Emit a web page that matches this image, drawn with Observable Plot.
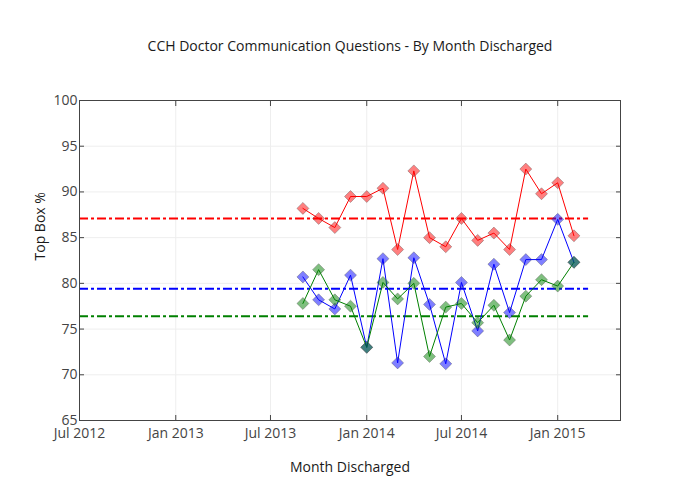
<!DOCTYPE html>
<html>
<head>
<meta charset="utf-8">
<script src="https://cdn.jsdelivr.net/npm/d3@7"></script>
<script src="https://cdn.jsdelivr.net/npm/@observablehq/plot@0.6"></script>
<style>
  html, body { margin: 0; padding: 0; background: #fff; }
  #chart { width: 700px; height: 500px; }
</style>
</head>
<body>
<div id="chart"></div>
<script>
// ---- data ----
const months = ["2013-09-01","2013-10-01","2013-11-01","2013-12-01","2014-01-01","2014-02-01",
                "2014-03-01","2014-04-01","2014-05-01","2014-06-01","2014-07-01","2014-08-01",
                "2014-09-01","2014-10-01","2014-11-01","2014-12-01","2015-01-01","2015-02-01"];
const redValues   = [88.2, 87.1, 86.1, 89.5, 89.5, 90.4, 83.7, 92.3, 85.0, 84.0, 87.1, 84.7, 85.5, 83.7, 92.5, 89.8, 91.0, 85.2];
const blueValues  = [80.7, 78.2, 77.2, 80.9, 73.0, 82.7, 71.3, 82.8, 77.7, 71.2, 80.1, 74.8, 82.1, 76.8, 82.6, 82.6, 87.0, 82.3];
const greenValues = [77.8, 81.5, 78.2, 77.5, 73.0, 80.1, 78.3, 80.0, 72.0, 77.4, 77.8, 75.7, 77.6, 73.8, 78.6, 80.4, 79.7, 82.3];
const seriesNames  = ["red", "blue", "green"];
const seriesColors = ["#ff0000", "#0000ff", "#008000"];
const meanValues   = [87.1, 79.4, 76.4];
const meanStart = "2012-07-01";
const meanEnd   = "2015-03-01";
const xDomain = ["2012-07-01", "2015-05-01"];
const xTicks = ["2012-07-01","2013-01-01","2013-07-01","2014-01-01","2014-07-01","2015-01-01"];
const xTickLabels = ["Jul 2012","Jan 2013","Jul 2013","Jan 2014","Jul 2014","Jan 2015"];
const yTicks = [65, 70, 75, 80, 85, 90, 95, 100];
const titleText = "CCH Doctor Communication Questions - By Month Discharged";
const xTitle = "Month Discharged";
const yTitle = "Top Box %";

// ---- build tables ----
const parse = s => new Date(s + "T00:00:00Z");
const valuesBySeries = [redValues, blueValues, greenValues];
const rows = [];
valuesBySeries.forEach((vals, si) => {
  vals.forEach((v, i) => rows.push({series: seriesNames[si], color: seriesColors[si], date: parse(months[i]), value: v}));
});
const means = meanValues.map((v, i) => ({value: v, color: seriesColors[i], x1: parse(meanStart), x2: parse(meanEnd)}));
const xTickDates = xTicks.map(parse);
const labelFor = d => { const i = xTickDates.findIndex(t => +t === +d); return i >= 0 ? xTickLabels[i] : ""; };

const chart = Plot.plot({
  width: 700,
  height: 500,
  marginLeft: 79,
  marginRight: 80,
  marginTop: 100,
  marginBottom: 80,
  style: {fontFamily: "'Open Sans', sans-serif", fontSize: "14px", color: "#444", background: "#fff", overflow: "visible"},
  x: {type: "utc", domain: xDomain.map(parse)},
  y: {domain: [65, 100]},
  color: {type: "identity"},
  marks: [
    Plot.gridX(xTickDates, {stroke: "#eeeeee", strokeOpacity: 1}),
    Plot.gridY(yTicks, {stroke: "#eeeeee", strokeOpacity: 1}),
    Plot.ruleY(means, {y: "value", x1: "x1", x2: "x2", stroke: "color", strokeWidth: 2, strokeDasharray: "9,3,3,3"}),
    Plot.line(rows, {x: "date", y: "value", z: "series", stroke: "color", strokeWidth: 1}),
    Plot.dot(rows, {x: "date", y: "value", fill: "color", fillOpacity: 0.5, symbol: "diamond2", r: 5.4, stroke: "#444", strokeOpacity: 0.35, strokeWidth: 1}),
    Plot.frame({stroke: "#444", strokeWidth: 1}),
    Plot.axisX(xTickDates, {anchor: "bottom", tickSize: -5, tickPadding: 13, tickFormat: labelFor, label: null, fill: "#444"}),
    Plot.axisX(xTickDates, {anchor: "top", tickSize: -5, tickFormat: () => "", label: null}),
    Plot.axisY(yTicks, {anchor: "left", tickSize: -5, tickPadding: 7, tickFormat: d => String(d), label: null, fill: "#444"}),
    Plot.axisY(yTicks, {anchor: "right", tickSize: -5, tickFormat: () => "", label: null}),
    Plot.text([titleText], {frameAnchor: "top", dy: -59, fontSize: 14, fill: "#1a1a1a"}),
    Plot.text([xTitle], {frameAnchor: "bottom", dy: 51, fontSize: 14, fill: "#1a1a1a"}),
    Plot.text([yTitle], {frameAnchor: "left", dx: -39, rotate: -90, fontSize: 14, fill: "#1a1a1a"})
  ]
});
document.getElementById("chart").appendChild(chart);
</script>
</body>
</html>
